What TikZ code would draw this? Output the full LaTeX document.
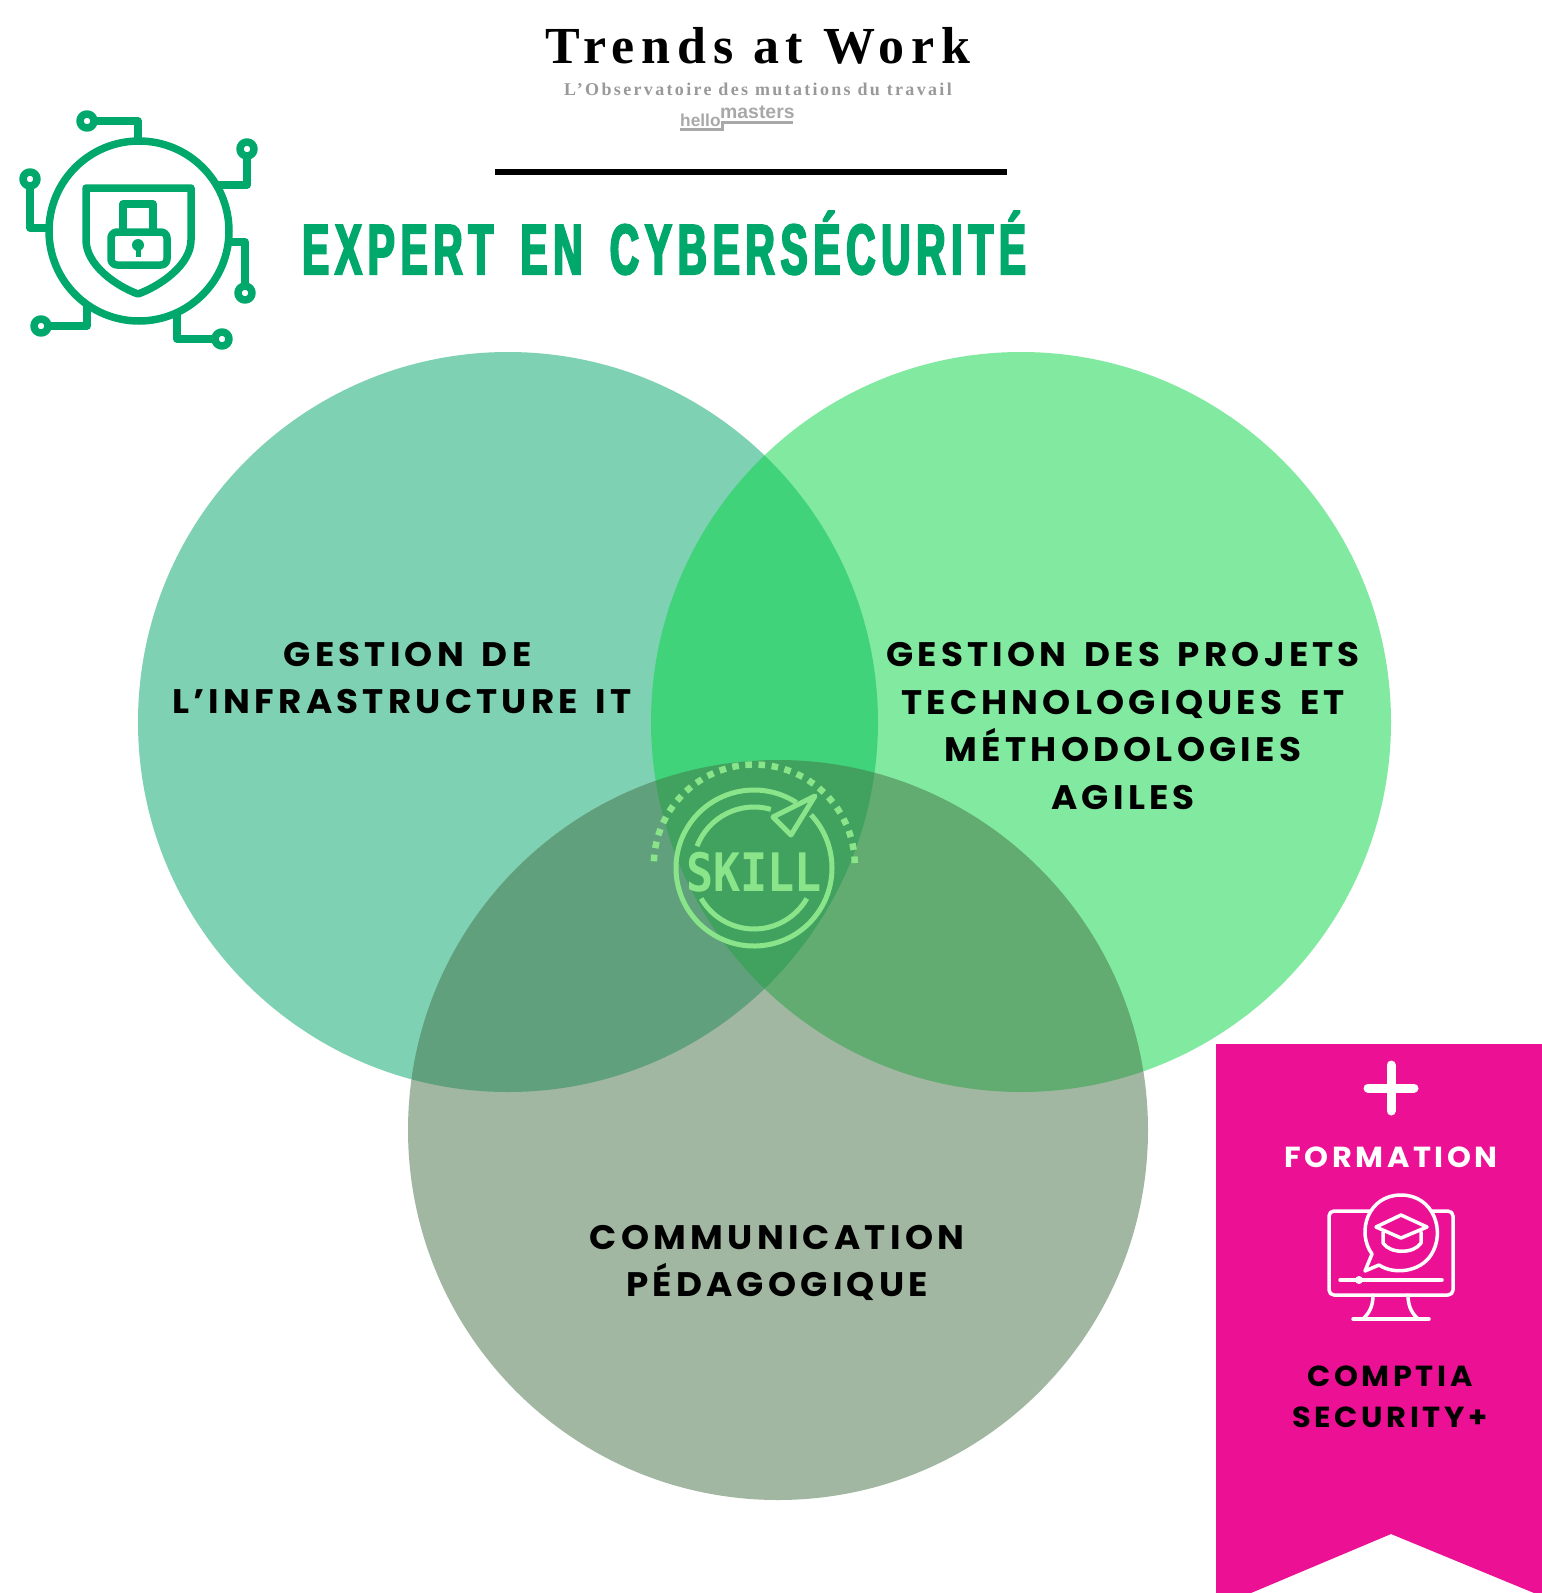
\documentclass[tikz,border=0pt]{standalone}
\usepackage{fontspec}
\usepackage{tikz}
\newfontfamily\titlefont[FakeStretch=0.57,LetterSpace=8.2,WordSpace=1.6,FakeBold=3]{Liberation Sans}
\newfontfamily\trendfont[LetterSpace=13]{Liberation Serif}
\newfontfamily\subfont[LetterSpace=13]{Liberation Serif}
\newfontfamily\labelfont[FakeStretch=1.05,LetterSpace=12.5,WordSpace=1.5]{Poppins}
\newfontfamily\logofont{Liberation Sans}
\newfontfamily\skillfont[FakeStretch=0.85]{DejaVu Sans Mono}
\definecolor{icongreen}{HTML}{00A86B}
\definecolor{skillgreen}{HTML}{8AE58A}
\definecolor{vennone}{HTML}{00A369}
\definecolor{venntwo}{HTML}{05D541}
\definecolor{vennthree}{HTML}{437045}
\definecolor{ribbonpink}{HTML}{EC1095}
\definecolor{logogrey}{HTML}{A8A8A8}

\begin{document}
\begin{tikzpicture}[x=1pt,y=-1pt,
  venn/.style={circle, minimum size=740pt, inner sep=0pt, fill opacity=.5},
  vennlabel/.style={align=center, inner sep=0pt, text=black, font=\labelfont\bfseries\fontsize{34}{47.6}\selectfont},
  ribbonlabel/.style={align=center, inner sep=0pt, font=\labelfont\bfseries\fontsize{29}{40.6}\selectfont},
  iconline/.style={draw=icongreen, line width=7.5pt, line join=round},
  skillline/.style={draw=skillgreen, line width=5pt, line join=round},
  pinkline/.style={draw=white, line width=3.5pt, line join=round, line cap=round}]
  \useasboundingbox (0,0) rectangle (1542,1593);
  \node (infra) [venn, fill=vennone] at (508,722) {};
  \node (projets) [venn, fill=venntwo] at (1021,722) {};
  \node (comm) [venn, fill=vennthree] at (778,1130) {};

  \node (trends) [anchor=base, inner sep=0pt, font=\trendfont\bfseries\fontsize{52}{52}\selectfont] at (758,63) {Trends at Work};
  \node (obs) [anchor=base, inner sep=0pt, text=gray!80, font=\subfont\bfseries\fontsize{18}{18}\selectfont] at (758,95) {L’Observatoire des mutations du travail};
  \node (hello) [anchor=base west, inner sep=0pt, text=logogrey, font=\logofont\bfseries\fontsize{17.3}{17.3}\selectfont] at (680,126) {hello};
  \node (masters) [anchor=base west, inner sep=0pt, text=logogrey, font=\logofont\bfseries\fontsize{19.4}{19.4}\selectfont] at (720,118) {masters};
  \draw[logogrey, line width=3pt] (680,129.5) -- (722,129.5) -- (722,122) -- (793,122);
  \draw[black, line width=6pt] (495,171.5) -- (1007,171.5);
  \node (title) [anchor=base west, inner sep=0pt, text=icongreen, font=\titlefont\bfseries\fontsize{71}{71}\selectfont] at (302,274) {EXPERT EN CYBERSÉCURITÉ};

  \draw[iconline] (139,231) circle [radius=90];
  \foreach \px/\py/\qx/\qy/\rx/\ry in {87/121/138/121/138/140, 247/149/247/185/217/185, 30/179/30/228/48/228, 245/293/245/242/230/242, 41/326/87/326/87/305, 222/339/177/339/177/313}
  {
    \draw[iconline] (\px,\py) -- (\qx,\qy) -- (\rx,\ry);
    \draw[iconline, fill=white] (\px,\py) circle [radius=7];
  }
  \draw[iconline] (86,188) -- (191,188) -- (191,240) .. controls (191,265) and (160,286) .. (138,294) .. controls (116,286) and (86,265) .. (86,240) -- cycle;
  \draw[iconline] (123,232) -- (123,204) -- (153,204) -- (153,232);
  \draw[iconline, rounded corners=6pt] (111,232) -- (167,232) -- (167,265) -- (111,265) -- cycle;
  \fill[icongreen] (138,245) circle [radius=6];
  \draw[icongreen, line width=5pt] (138,245) -- (138,257);

  \draw[skillline] (754,868) ++(-57:78) arc [start angle=-57, end angle=-403, radius=78];
  \draw[skillline] (754,868) ++(-159:61) arc [start angle=-159, end angle=-74, radius=61];
  \draw[skillline] (754,868) ++(-210:61) arc [start angle=-210, end angle=-330, radius=61];
  \draw[skillline] (815,796) -- (773,817) -- (791,835) -- cycle;
  \foreach \i in {0,...,23}
    \fill[skillgreen, rotate around={3+\i*7.52:(754.3,865)}] (851.5,861.7) rectangle (858,868.3);
  \node (skill) [anchor=base, inner sep=0pt, text=skillgreen, font=\skillfont\bfseries\fontsize{53}{53}\selectfont] at (754,891) {SKILL};

  \node (infralabel) [vennlabel] at (402,678) {\hspace*{11pt}GESTION DE\\L’INFRASTRUCTURE IT};
  \node (projetslabel) [vennlabel] at (1123,726) {GESTION DES PROJETS\\TECHNOLOGIQUES ET\\MÉTHODOLOGIES\\AGILES};
  \node (commlabel) [vennlabel] at (777,1263) {COMMUNICATION\\PÉDAGOGIQUE};

  \fill[ribbonpink] (1216,1044) -- (1542,1044) -- (1542,1593) -- (1534,1593) -- (1391,1534) -- (1251,1593) -- (1216,1593) -- cycle;
  \draw[white, line width=9pt, line cap=round] (1368,1088) -- (1414,1088);
  \draw[white, line width=9pt, line cap=round] (1391,1065) -- (1391,1111);
  \node (formation) [ribbonlabel, anchor=base, text=white] at (1391,1167) {FORMATION};
  \node (comptia) [ribbonlabel, text=black] at (1390,1397) {COMPTIA\\SECURITY+};

  \draw[pinkline, rounded corners=5pt] (1371,1211) -- (1329,1211) -- (1329,1295) -- (1453,1295) -- (1453,1211) -- (1431,1211);
  \draw[pinkline] (1379,1265) -- (1365,1271) -- (1372,1254);
  \draw[pinkline] (1379,1265) .. controls (1394,1275) and (1420,1272) .. (1431,1255) .. controls (1446,1232) and (1434,1195) .. (1401,1195) .. controls (1368,1195) and (1356,1232) .. (1372,1254);
  \draw[pinkline] (1340,1280) -- (1442,1280);
  \fill[white] (1359,1280) circle [radius=4];
  \draw[pinkline] (1373,1295) .. controls (1373,1308) and (1368,1314) .. (1363,1319);
  \draw[pinkline] (1408,1295) .. controls (1408,1308) and (1413,1314) .. (1418,1319);
  \draw[pinkline] (1353,1319) -- (1429,1319);
  \draw[pinkline] (1376,1227) -- (1401,1215) -- (1427,1227) -- (1401,1238) -- cycle;
  \draw[pinkline] (1383,1232) -- (1383,1243) .. controls (1390,1254) and (1414,1254) .. (1421,1243) -- (1421,1232);
\end{tikzpicture}
\end{document}
